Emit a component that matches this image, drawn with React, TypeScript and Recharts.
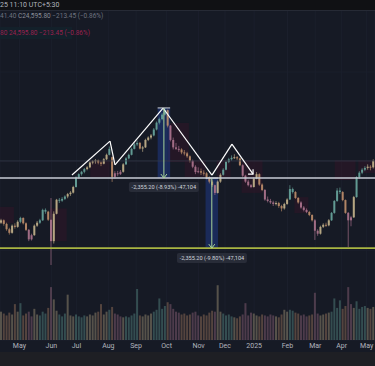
import React from 'react'
import { ComposedChart, Bar, XAxis, YAxis, CartesianGrid, ReferenceLine, ReferenceArea, ReferenceDot } from 'recharts'

// 2-day candles, Apr 2024 -> May 2025
const OPEN = [
  22520, 22600, 22480, 22300, 22180, 22420, 22380, 22550, 22680, 22500, 22280, 21960, 22100, 22420, 22520, 22600,
  22950, 22890, 22620, 21900, 22820, 23290, 23260, 23320, 23400, 23480, 23530, 23720, 24040, 24150, 24230, 24320,
  24380, 24540, 24580, 24620, 24540, 24500, 24650, 24800, 24720, 24060, 24180, 24150, 24230, 24480, 24680, 24800,
  25000, 25150, 25200, 25010, 25050, 25300, 25380, 25450, 25650, 25880, 26000, 26150, 26300, 25780, 25300, 25050,
  25000, 24980, 24880, 24850, 24750, 24600, 24400, 24220, 24250, 24200, 24180, 24050, 23900, 23780, 23520, 23900,
  24130, 24300, 24560, 24650, 24700, 24720, 24680, 24450, 24100, 23900, 23780, 23720, 24000, 24150, 23800, 23620,
  23300, 23250, 23200, 23150, 23180, 23080, 23000, 23150, 23300, 23650, 23550, 23350, 23200, 23030, 22950, 22880,
  22780, 22600, 22250, 22150, 22380, 22450, 22430, 22600, 22850, 23250, 23600, 23550, 23280, 22850, 22600, 22700,
  23380, 24050, 24200, 24300, 24360, 24400, 24380,
]
const HIGH = [
  22650, 22630, 22520, 22350, 22460, 22500, 22600, 22720, 22700, 22530, 22310, 22150, 22460, 22580, 22650, 22990,
  23000, 22920, 23350, 22900, 23320, 23350, 23380, 23440, 23520, 23580, 23760, 24080, 24180, 24260, 24360, 24420,
  24580, 24620, 24660, 24640, 24580, 24690, 24840, 25080, 24740, 24250, 24260, 24290, 24520, 24720, 24840, 25040,
  25200, 25280, 25230, 25100, 25340, 25420, 25500, 25700, 25920, 26050, 26200, 26380, 26320, 25800, 25380, 25200,
  25100, 25020, 24960, 24900, 24780, 24640, 24450, 24380, 24340, 24280, 24220, 24080, 23960, 23800, 23940, 24180,
  24350, 24600, 24700, 24780, 24820, 24760, 24700, 24480, 24130, 23960, 23820, 24050, 24220, 24180, 23840, 23650,
  23400, 23320, 23260, 23240, 23220, 23120, 23190, 23340, 23780, 23700, 23580, 23380, 23240, 23080, 23000, 22920,
  22800, 22640, 22300, 22420, 22500, 22520, 22640, 22880, 23280, 23680, 23700, 23580, 23300, 22880, 22750, 23420,
  24080, 24250, 24350, 24420, 24480, 24450, 24650,
]
const LOW = [
  22480, 22420, 22250, 22120, 22150, 22320, 22350, 22500, 22460, 22240, 21900, 21920, 22080, 22380, 22480, 22580,
  22820, 22580, 21100, 21820, 22800, 23180, 23220, 23280, 23340, 23420, 23500, 23700, 24000, 24100, 24180, 24280,
  24350, 24480, 24500, 24480, 24420, 24480, 24620, 24780, 23890, 24000, 24080, 24120, 24200, 24460, 24650, 24780,
  24980, 25100, 24980, 24900, 25030, 25260, 25320, 25420, 25620, 25820, 25960, 26120, 25720, 25250, 24980, 24960,
  24900, 24820, 24780, 24700, 24540, 24350, 24150, 24180, 24120, 24100, 23980, 23840, 23720, 23450, 23500, 23860,
  24100, 24280, 24520, 24600, 24660, 24620, 24420, 24060, 23860, 23740, 23680, 23700, 23980, 23760, 23580, 23260,
  23200, 23150, 23080, 23100, 23020, 22900, 22960, 23120, 23280, 23500, 23320, 23160, 22990, 22900, 22840, 22740,
  22560, 21940, 22080, 22120, 22340, 22380, 22400, 22580, 22820, 23220, 23480, 23240, 22820, 21700, 22400, 22680,
  23360, 24000, 24150, 24250, 24300, 24280, 24340,
]
const CLOSE = [
  22600, 22480, 22300, 22180, 22420, 22380, 22550, 22680, 22500, 22280, 21960, 22100, 22420, 22520, 22600, 22950,
  22890, 22620, 21900, 22820, 23290, 23260, 23320, 23400, 23480, 23530, 23720, 24040, 24150, 24230, 24320, 24380,
  24540, 24580, 24620, 24540, 24500, 24650, 24800, 25000, 24060, 24180, 24150, 24230, 24480, 24680, 24800, 25000,
  25150, 25200, 25010, 25050, 25300, 25380, 25450, 25650, 25880, 26000, 26150, 26300, 25780, 25300, 25050, 25000,
  24980, 24880, 24850, 24750, 24600, 24400, 24220, 24250, 24200, 24180, 24050, 23900, 23780, 23520, 23900, 24130,
  24300, 24560, 24650, 24700, 24720, 24680, 24450, 24100, 23900, 23780, 23720, 24000, 24150, 23800, 23620, 23300,
  23250, 23200, 23150, 23180, 23080, 23000, 23150, 23300, 23650, 23550, 23350, 23200, 23030, 22950, 22880, 22780,
  22600, 22250, 22150, 22380, 22450, 22430, 22600, 22850, 23250, 23600, 23550, 23280, 22850, 22600, 22700, 23380,
  24050, 24200, 24300, 24360, 24400, 24380, 24600,
]
const VOLUME = [
  300, 280, 260, 290, 270, 380, 300, 390, 260, 280, 300, 250, 330, 270, 260, 300,
  280, 340, 560, 430, 310, 270, 250, 280, 480, 260, 250, 270, 250, 240, 260, 250,
  270, 260, 290, 300, 380, 270, 300, 320, 350, 280, 270, 250, 240, 250, 240, 260,
  280, 540, 260, 250, 270, 260, 280, 300, 320, 440, 330, 360, 400, 380, 330, 300,
  290, 270, 280, 260, 270, 290, 300, 260, 250, 270, 260, 290, 310, 300, 580, 300,
  280, 260, 270, 250, 240, 230, 250, 270, 390, 260, 290, 280, 260, 250, 270, 260,
  250, 270, 260, 250, 240, 270, 320, 300, 320, 310, 290, 280, 260, 270, 250, 260,
  270, 500, 280, 260, 270, 280, 290, 300, 440, 340, 420, 330, 360, 560, 380, 340,
  410, 330, 350, 360, 340, 330, 350,
]

const MONTH_T = [14, 37, 55, 78, 98, 120, 143, 162, 183, 207, 227, 246, 264]
const MONTH_LABELS = ['May', 'Jun', 'Jul', 'Aug', 'Sep', 'Oct', 'Nov', 'Dec', '2025', 'Feb', 'Mar', 'Apr', 'May']

// head & shoulders drawing
const PATTERN_T = [51.8, 79.2, 82.8, 117.4, 152.6, 167, 182.2]
const PATTERN_P = [24120, 25260, 24460, 26372, 24120, 25160, 24150]
const HEAD_TOP = 26375
const NECKLINE = 24020
const TARGET = 21665
const LAST_PRICE = 24595.8
const MEASURE_T = [[113.5, 122.5], [148, 157]]
const MEASURE_LABELS = ['-2,355.20 (-8.93%) -47,104', '-2,355.20 (-9.80%) -47,104']

// shaded zones behind price: [t1, t2, p1, p2]
const ZONES = [
  [0, 10, 22500, 23050], [36, 48, 21900, 23000], [65, 79, 24050, 24620], [121, 136, 24560, 25870],
  [133, 148, 24050, 24620], [156, 166, 24050, 24620], [174, 189, 23520, 24620], [212, 222, 22840, 23380],
  [241, 256, 23950, 24620], [258, 270, 24190, 24620],
]

const data = CLOSE.map((c, i) => ({
  t: i * 2 + 1, range: [LOW[i], HIGH[i]], o: OPEN[i], h: HIGH[i], l: LOW[i], c, vol: VOLUME[i],
}))

function candleColor(i: number) {
  const d = CLOSE[i] - CLOSE[Math.max(0, i - 4)]
  if (d > 450) return '#6aa89f'
  if (d < -450) return '#b07690'
  return CLOSE[i] >= OPEN[i] ? '#c7b68e' : '#c1906c'
}

function Candle(props: any) {
  const { x, y, width, height, payload, index } = props
  if (y == null || height == null) return null
  const top = Math.min(y, y + height)
  const hh = Math.abs(height)
  const k = payload.h - payload.l > 0 ? hh / (payload.h - payload.l) : 0
  const bTop = top + (payload.h - Math.max(payload.o, payload.c)) * k
  const bH = Math.max(1, Math.abs(payload.o - payload.c) * k)
  const cx = x + width / 2
  const col = candleColor(index)
  return (
    <g opacity={0.9}>
      <line x1={cx} x2={cx} y1={top} y2={top + hh} stroke={col} strokeWidth={0.7} />
      <rect x={x} y={bTop} width={width} height={bH} fill={col} />
    </g>
  )
}

function VolBar(props: any) {
  const { x, y, width, height, index } = props
  if (y == null || !height) return null
  return <rect x={x} y={Math.min(y, y + height)} width={width} height={Math.abs(height)} fill={candleColor(index)} fillOpacity={0.36} />
}

const labelShape = (text: string) => (p: any) => (
  <g>
    <rect x={p.cx - 35} y={p.cy - 5} width={70} height={10} rx={2} fill="#2a2e39" fillOpacity={0.92} />
    <text x={p.cx} y={p.cy + 2} textAnchor="middle" fontSize={5.6} fill="#d1d4dc" fontFamily="Roboto">{text}</text>
  </g>
)

const arrowDown = (p: any) => (
  <path d={`M${p.cx - 3},${p.cy - 4} L${p.cx},${p.cy} L${p.cx + 3},${p.cy - 4}`} stroke="#a9d49a" strokeWidth={1} fill="none" />
)
const arrowPattern = (p: any) => (
  <path d={`M${p.cx - 5},${p.cy} L${p.cx},${p.cy} L${p.cx},${p.cy - 5}`} stroke="#ffffff" strokeWidth={1.2} fill="none" />
)

export default function App() {
  return (
    <div style={{ position: 'absolute', left: 0, top: 0, width: 375, height: 366, background: '#161a25', overflow: 'hidden', fontFamily: 'Roboto, sans-serif' }}>
      <ComposedChart width={375} height={352} data={data} margin={{ top: 0, right: 0, bottom: 0, left: 0 }}>
        <CartesianGrid stroke="#1b1f2c" xAxisId="p" yAxisId="p" />
        <XAxis xAxisId="p" dataKey="t" type="number" domain={[0, 270]} ticks={MONTH_T} interval={0}
          tickFormatter={(v: number) => MONTH_LABELS[MONTH_T.indexOf(v)]} height={12} axisLine={false} tickLine={false}
          tickSize={0} tickMargin={3} tick={{ fontSize: 7, fill: '#b2b5be' }} allowDataOverflow />
        <XAxis xAxisId="v" dataKey="t" type="number" domain={[0, 270]} hide allowDataOverflow />
        <YAxis yAxisId="p" domain={[18580, 30000]} hide allowDataOverflow />
        <YAxis yAxisId="v" domain={[0, 3600]} hide />

        {ZONES.map((z, i) => (
          <ReferenceArea key={'z' + i} xAxisId="p" yAxisId="p" x1={z[0]} x2={z[1]} y1={z[2]} y2={z[3]} fill="#3a1429" fillOpacity={0.4} stroke="none" />
        ))}

        <Bar xAxisId="v" yAxisId="v" dataKey="vol" barSize={2} shape={VolBar} isAnimationActive={false} />

        <ReferenceArea xAxisId="p" yAxisId="p" x1={MEASURE_T[0][0]} x2={MEASURE_T[0][1]} y1={NECKLINE} y2={HEAD_TOP} fill="#2962ff" fillOpacity={0.24} stroke="none" />
        <ReferenceArea xAxisId="p" yAxisId="p" x1={MEASURE_T[1][0]} x2={MEASURE_T[1][1]} y1={TARGET} y2={NECKLINE} fill="#2962ff" fillOpacity={0.24} stroke="none" />

        <Bar xAxisId="p" yAxisId="p" dataKey="range" barSize={2} shape={Candle} isAnimationActive={false} />

        <ReferenceLine xAxisId="p" yAxisId="p" y={LAST_PRICE} stroke="#343846" strokeWidth={0.8} />
        <ReferenceLine xAxisId="p" yAxisId="p" y={NECKLINE} stroke="#c9ccd6" strokeWidth={1.6} />
        <ReferenceLine xAxisId="p" yAxisId="p" y={TARGET} stroke="#a9b542" strokeWidth={1.8} />

        {PATTERN_T.slice(1).map((t, i) => (
          <ReferenceLine key={'pt' + i} xAxisId="p" yAxisId="p" stroke="#ffffff" strokeWidth={1.2}
            segment={[{ x: PATTERN_T[i], y: PATTERN_P[i] }, { x: t, y: PATTERN_P[i + 1] }]} />
        ))}
        <ReferenceDot xAxisId="p" yAxisId="p" x={PATTERN_T[6]} y={PATTERN_P[6]} shape={arrowPattern} />

        {MEASURE_T.map((m, i) => {
          const mid = (m[0] + m[1]) / 2
          const top = i === 0 ? HEAD_TOP : NECKLINE
          const bot = i === 0 ? NECKLINE : TARGET
          return (
            <React.Fragment key={'m' + i}>
              <ReferenceLine xAxisId="p" yAxisId="p" stroke="#a9d49a" strokeWidth={1} segment={[{ x: mid, y: top }, { x: mid, y: bot }]} />
              <ReferenceLine xAxisId="p" yAxisId="p" stroke="#d1d4dc" strokeWidth={1} segment={[{ x: m[0], y: top }, { x: m[1], y: top }]} />
              <ReferenceDot xAxisId="p" yAxisId="p" x={mid} y={bot} shape={arrowDown} />
            </React.Fragment>
          )
        })}
        <ReferenceDot xAxisId="p" yAxisId="p" x={118} y={23718} shape={labelShape(MEASURE_LABELS[0])} />
        <ReferenceDot xAxisId="p" yAxisId="p" x={152.6} y={21332} shape={labelShape(MEASURE_LABELS[1])} />
      </ComposedChart>

      <div style={{ position: 'absolute', left: 0, top: 352, width: 375, height: 14, background: '#1e1f24' }} />
      <div style={{ position: 'absolute', left: 0, top: 0, width: 375, height: 10, background: '#101114', borderBottom: '1px solid #262a35' }} />
      <div style={{ position: 'absolute', left: 0, top: 1, fontSize: 7, color: '#b2b5be', whiteSpace: 'nowrap' }}>25 11:10 UTC+5:30</div>
      <div style={{ position: 'absolute', left: 0, top: 12, fontSize: 6.5, color: '#6f7380', whiteSpace: 'nowrap' }}>
        41.40 <span style={{ color: '#8a8d98' }}>C24,595.80</span> −213.45 (−0.86%)
      </div>
      <div style={{ position: 'absolute', left: 0, top: 27, width: 72, height: 12, background: '#13202a' }} />
      <div style={{ position: 'absolute', left: 0, top: 29, fontSize: 6.5, color: '#9b2150', whiteSpace: 'nowrap' }}>
        80  24,595.80  −213.45 (−0.86%)
      </div>
    </div>
  )
}
